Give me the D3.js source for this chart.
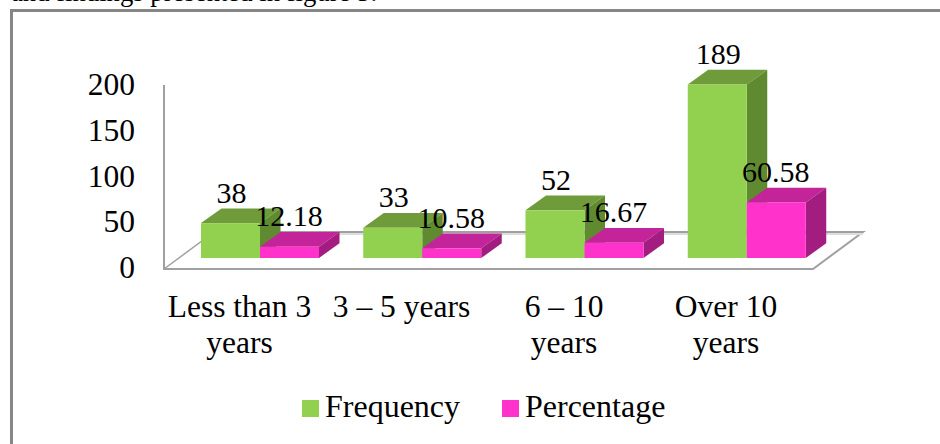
<!DOCTYPE html>
<html><head><meta charset="utf-8">
<script src="https://cdn.jsdelivr.net/npm/d3@7"></script>
<style>html,body{margin:0;padding:0;background:#fff;overflow:hidden}svg{display:block}text{font-family:"Liberation Serif",serif;fill:#000}</style>
</head><body><svg id="c" width="940" height="444"></svg>
<script>
const categories = [["Less than 3","years"],["3 – 5 years"],["6 – 10","years"],["Over 10","years"]];
const seriesNames = ["Frequency","Percentage"];
const frequency = [38,33,52,189];
const percentage = [12.18,10.58,16.67,60.58];
const yTicks = [0,50,100,150,200];
const caption = "and findings presented in figure 5.";

const fontSize = 31.5, labelSize = 30;
const palette = {
  Frequency:{front:"#92d050",top:"#6f9b3b",side:"#5f8a30"},
  Percentage:{front:"#ff33cc",top:"#c4249a",side:"#a31c80"}
};
const svg = d3.select("#c");
const floorY = 258;
const depth = {dx:20.5, dy:-14.7};
const y = d3.scaleLinear().domain([0,200]).range([floorY, floorY-183.6]);
const axisY = d3.scaleLinear().domain([0,200]).range([278,95]);
const x = d3.scaleBand().domain(d3.range(categories.length)).range([164,813]);
const sub = d3.scaleBand().domain(seriesNames).range([37,37+118]);

svg.append("text").attr("x",11).attr("y",1).attr("font-size",26.7).text(caption);
svg.append("path").attr("d","M11.5,444V10.5H940").attr("fill","none").attr("stroke","#868686").attr("stroke-width",3);

// walls and floor
const line = d3.line();
svg.append("path").attr("d",line([[164,85],[164,269],[813,269],[863,232],[214,232]])).attr("fill","none").attr("stroke","#a0a0a0").attr("stroke-width",2);
svg.append("path").attr("d",line([[164,269],[214,232]])).attr("fill","none").attr("stroke","#a0a0a0").attr("stroke-width",1.5);
svg.append("rect").attr("x",214).attr("y",233).attr("width",649).attr("height",2).attr("fill","#dddddd");

function bar(i,name,v){
  const c = palette[name];
  const x0 = x(i)+sub(name), w = sub.bandwidth(), x1 = x0+w, t = y(v), b = y(0);
  const g = svg.append("g");
  g.append("path").attr("d",line([[x0,t],[x1,t],[x1+depth.dx,t+depth.dy],[x0+depth.dx,t+depth.dy]])+"Z").attr("fill",c.top);
  g.append("path").attr("d",line([[x1,t],[x1+depth.dx,t+depth.dy],[x1+depth.dx,b+depth.dy],[x1,b]])+"Z").attr("fill",c.side);
  g.append("rect").attr("x",x0).attr("y",t).attr("width",w).attr("height",b-t).attr("fill",c.front);
}
categories.forEach((_,i)=>{ bar(i,"Frequency",frequency[i]); bar(i,"Percentage",percentage[i]); });

// y axis labels
yTicks.forEach(t=>svg.append("text").attr("x",135).attr("y",axisY(t)).attr("text-anchor","end").attr("font-size",fontSize).text(t));

// data labels
categories.forEach((_,i)=>{
  svg.append("text").attr("x",x(i)+sub("Frequency")+sub.bandwidth()/2+1).attr("y",y(frequency[i])-20.5).attr("text-anchor","middle").attr("font-size",labelSize).text(frequency[i]);
  svg.append("text").attr("x",x(i)+sub("Percentage")+sub.bandwidth()/2-0.5).attr("y",y(percentage[i])-20.5).attr("text-anchor","middle").attr("font-size",labelSize).text(percentage[i].toFixed(2));
});

// category labels
const catCenters = [239.5,401.5,564,726];
categories.forEach((lines,i)=>{
  lines.forEach((l,j)=>svg.append("text").attr("x",catCenters[i]).attr("y",316.5+j*36.5).attr("text-anchor","middle").attr("font-size",fontSize).text(l));
});

// legend
[["Frequency",302,325],["Percentage",502,525]].forEach(([n,sx,tx])=>{
  svg.append("rect").attr("x",sx).attr("y",400).attr("width",17).attr("height",17).attr("fill",palette[n].front);
  svg.append("text").attr("x",tx).attr("y",417).attr("font-size",fontSize+0.5).text(n);
});
</script></body></html>
